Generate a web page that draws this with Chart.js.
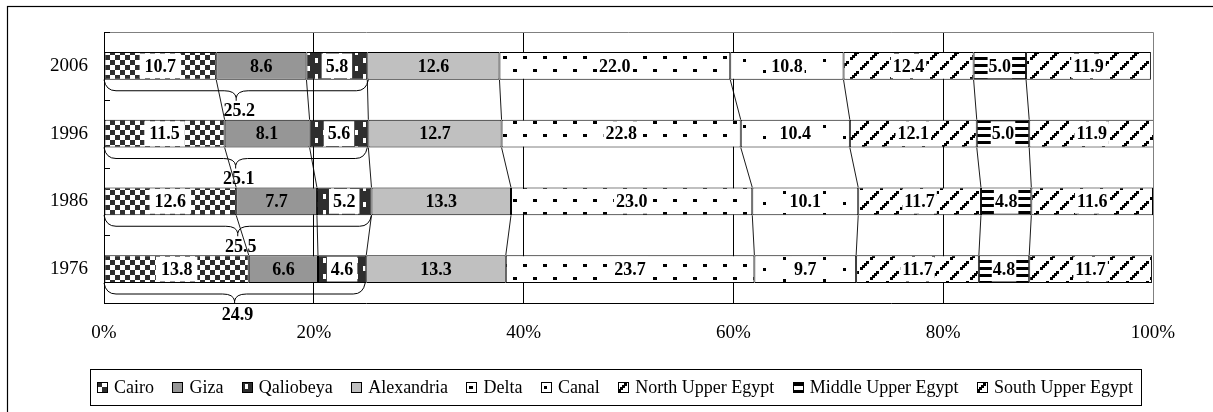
<!DOCTYPE html>
<html>
<head>
<meta charset="utf-8">
<script src="https://cdn.jsdelivr.net/npm/chart.js@4/dist/chart.umd.min.js"></script>
<style>
  html, body { margin: 0; padding: 0; background: #fff; }
  #c { display: block; }
</style>
</head>
<body>
<canvas id="c" width="1213" height="412"></canvas>
<script>
// Population shares (%) by region, census years
const years       = ['2006', '1996', '1986', '1976'];
const cairo       = [10.7, 11.5, 12.6, 13.8];
const giza        = [8.6, 8.1, 7.7, 6.6];
const qaliobeya   = [5.8, 5.6, 5.2, 4.6];
const alexandria  = [12.6, 12.7, 13.3, 13.3];
const delta       = [22.0, 22.8, 23.0, 23.7];
const canal       = [10.8, 10.4, 10.1, 9.7];
const northUpper  = [12.4, 12.1, 11.7, 11.7];
const middleUpper = [5.0, 5.0, 4.8, 4.8];
const southUpper  = [11.9, 11.9, 11.6, 11.7];
// Greater Cairo (Cairo + Giza + Qaliobeya) totals shown under the braces
const greaterCairo = [25.2, 25.1, 25.5, 24.9];
const xTickValues  = [0, 20, 40, 60, 80, 100];

const FONT = '"Liberation Serif", "Times New Roman", serif';
const DARK = '#2e2e2e';
const canvas = document.getElementById('c');
const ctx0 = canvas.getContext('2d');

function tile(w, h, draw) {
  const c = document.createElement('canvas');
  c.width = w; c.height = h;
  const g = c.getContext('2d');
  g.fillStyle = '#fff';
  g.fillRect(0, 0, w, h);
  draw(g, w, h);
  return ctx0.createPattern(c, 'repeat');
}

const fillCheck = tile(10, 10, g => {
  g.fillStyle = DARK;
  g.fillRect(0, 0, 5, 5); g.fillRect(5, 5, 5, 5);
});
const fillDarkSpeck = tile(16, 16, g => {
  g.fillStyle = DARK; g.fillRect(0, 0, 16, 16);
  g.fillStyle = '#fff';
  g.fillRect(3, 2, 3, 5); g.fillRect(11, 10, 3, 5);
});
const fillDots = tile(20, 26, g => {
  g.fillStyle = '#000';
  g.fillRect(3, 4, 4, 3); g.fillRect(13, 17, 4, 3);
});
const fillSparse = tile(40, 22, g => {
  g.fillStyle = '#000';
  g.fillRect(3, 4, 3, 3); g.fillRect(23, 15, 3, 3);
});
const fillHatch = tile(20, 20, g => {
  g.fillStyle = '#000';
  for (let k = 0; k < 10; k++) {
    if (k % 5 === 4) continue;
    g.fillRect(2 * k, (27 - 2 * k) % 20, 3, 3);
  }
});
const fillStripes = tile(4, 7, g => {
  g.fillStyle = '#000';
  g.fillRect(0, 1, 4, 3);
});

// pad: white box margin around the value label (null = no box)
const series = [
  { label: 'Cairo',              data: cairo,       fill: fillCheck,     pad: 5 },
  { label: 'Giza',               data: giza,        fill: '#969696',     pad: null },
  { label: 'Qaliobeya',          data: qaliobeya,   fill: fillDarkSpeck, pad: 4 },
  { label: 'Alexandria',         data: alexandria,  fill: '#c0c0c0',     pad: null },
  { label: 'Delta',              data: delta,       fill: fillDots,      pad: 2 },
  { label: 'Canal',              data: canal,       fill: fillSparse,    pad: 2 },
  { label: 'North Upper Egypt',  data: northUpper,  fill: fillHatch,     pad: 2 },
  { label: 'Middle Upper Egypt', data: middleUpper, fill: fillStripes,   pad: 1 },
  { label: 'South Upper Egypt',  data: southUpper,  fill: fillHatch,     pad: 2 }
];

const decor = {
  id: 'decor',
  beforeDraw(chart) {
    const g = chart.ctx;
    g.save();
    g.strokeStyle = '#000';
    g.lineWidth = 1.2;
    g.strokeRect(7.5, 6.5, 1240, 440);
    g.restore();
  },
  afterDatasetsDraw(chart) {
    const g = chart.ctx;
    const a = chart.chartArea;
    const xs = chart.scales.x, ys = chart.scales.y;
    g.save();

    // plot-area frame (top/right) and inward category ticks
    g.strokeStyle = '#808080';
    g.lineWidth = 1;
    g.beginPath();
    g.moveTo(a.left, a.top + 0.5); g.lineTo(a.right + 0.5, a.top + 0.5);
    g.lineTo(a.right + 0.5, a.bottom);
    g.stroke();
    g.strokeStyle = '#000';
    g.beginPath();
    const step = (ys.getPixelForTick(1) - ys.getPixelForTick(0));
    for (let i = 0; i <= years.length; i++) {
      const y = Math.round(ys.getPixelForTick(0) - step / 2 + i * step) + 0.5;
      g.moveTo(a.left, y); g.lineTo(a.left + 6, y);
    }
    g.stroke();

    // series lines joining the same boundary between consecutive bars
    g.lineWidth = 0.9;
    g.beginPath();
    for (let d = 0; d < series.length - 1; d++) {
      const meta = chart.getDatasetMeta(d);
      for (let i = 0; i < years.length - 1; i++) {
        const b0 = meta.data[i], b1 = meta.data[i + 1];
        g.moveTo(b0.x, b0.y + b0.height / 2);
        g.lineTo(b1.x, b1.y - b1.height / 2);
      }
    }
    g.stroke();

    // braces grouping Cairo + Giza + Qaliobeya
    const m0 = chart.getDatasetMeta(0);
    g.lineWidth = 1;
    g.font = 'bold 18px ' + FONT;
    g.textAlign = 'center';
    g.textBaseline = 'middle';
    g.fillStyle = '#000';
    for (let i = 0; i < years.length; i++) {
      const bar = m0.data[i];
      const y = bar.y + bar.height / 2;
      const x0 = xs.getPixelForValue(0), x1 = xs.getPixelForValue(greaterCairo[i]);
      const xc = (x0 + x1) / 2;
      const h = 11, tip = 21, r = 12;
      g.beginPath();
      g.moveTo(x0, y);
      g.quadraticCurveTo(x0 + 2, y + h, x0 + r, y + h);
      g.lineTo(xc - r, y + h);
      g.quadraticCurveTo(xc - 1, y + h, xc, y + h + 7);
      g.lineTo(xc, y + tip);
      g.moveTo(x1, y);
      g.quadraticCurveTo(x1 - 2, y + h, x1 - r, y + h);
      g.lineTo(xc + r, y + h);
      g.quadraticCurveTo(xc + 1, y + h, xc, y + h + 7);
      g.stroke();
      g.fillText(greaterCairo[i].toFixed(1), xc + 3, y + tip + 11);
    }

    // value labels
    series.forEach((s, d) => {
      const meta = chart.getDatasetMeta(d);
      meta.data.forEach((bar, i) => {
        const txt = s.data[i].toFixed(1);
        const cx = (bar.x + bar.base) / 2;
        const w = g.measureText(txt).width;
        if (s.pad !== null) {
          g.fillStyle = '#fff';
          g.fillRect(cx - w / 2 - s.pad, bar.y - bar.height / 2 + 1.5, w + 2 * s.pad, bar.height - 3);
        }
        g.fillStyle = '#000';
        g.fillText(txt, cx, bar.y + 1);
      });
    });
    g.restore();
  },
  afterDraw(chart) {
    // legend box
    const g = chart.ctx;
    g.save();
    const bx = 90.5, by = 369.5, bw = 1051, bh = 36;
    g.strokeStyle = '#000';
    g.lineWidth = 1;
    g.strokeRect(bx, by, bw, bh);
    g.font = '18px ' + FONT;
    g.textBaseline = 'middle';
    g.textAlign = 'left';
    const ds = chart.data.datasets;
    const icon = 11, gapIcon = 6;
    const widths = ds.map(d => g.measureText(d.label).width);
    const used = widths.reduce((s, w) => s + w + icon + gapIcon, 0);
    const spanL = 97, spanR = 1133;
    const gap = (spanR - spanL - used) / (ds.length - 1);
    let x = spanL;
    const cy = by + bh / 2;
    ds.forEach((d, i) => {
      const ix = Math.round(x), iy = Math.round(cy - 6);
      g.save();
      g.translate(ix, iy);
      g.fillStyle = d.backgroundColor;
      g.fillRect(0, 0, icon, icon);
      g.strokeRect(0.5, 0.5, icon - 1, icon - 1);
      g.restore();
      g.fillStyle = '#000';
      g.fillText(d.label, x + icon + gapIcon, cy + 1);
      x += icon + gapIcon + widths[i] + gap;
    });
    g.restore();
  }
};

new Chart(canvas, {
  type: 'bar',
  data: {
    labels: years,
    datasets: series.map(s => ({
      label: s.label,
      data: s.data,
      backgroundColor: s.fill,
      borderColor: '#000',
      borderWidth: 1,
      borderSkipped: false,
      categoryPercentage: 1,
      barPercentage: 0.41
    }))
  },
  options: {
    indexAxis: 'y',
    responsive: false,
    animation: false,
    layout: { padding: { left: 0, top: 32, right: 60, bottom: 69 } },
    plugins: { legend: { display: false }, tooltip: { enabled: false } },
    scales: {
      x: {
        stacked: true,
        min: 0, max: 100,
        afterBuildTicks: sc => { sc.ticks = xTickValues.map(v => ({ value: v })); },
        afterFit: sc => { sc.height = 40; },
        ticks: {
          callback: v => v + '%',
          color: '#000',
          font: { family: FONT, size: 19 },
          padding: 19,
          maxRotation: 0
        },
        grid: {
          drawTicks: false,
          color: c => (c.tick && c.tick.value > 0 && c.tick.value < 100) ? '#000' : 'rgba(0,0,0,0)',
          lineWidth: 1
        },
        border: { display: true, color: '#000', width: 1 }
      },
      y: {
        stacked: true,
        afterFit: sc => { sc.width = 104; },
        ticks: {
          color: '#000',
          font: { family: FONT, size: 19 },
          padding: 16
        },
        grid: { display: false, drawTicks: false },
        border: { display: true, color: '#000', width: 1 }
      }
    }
  },
  plugins: [decor]
});
</script>
</body>
</html>
